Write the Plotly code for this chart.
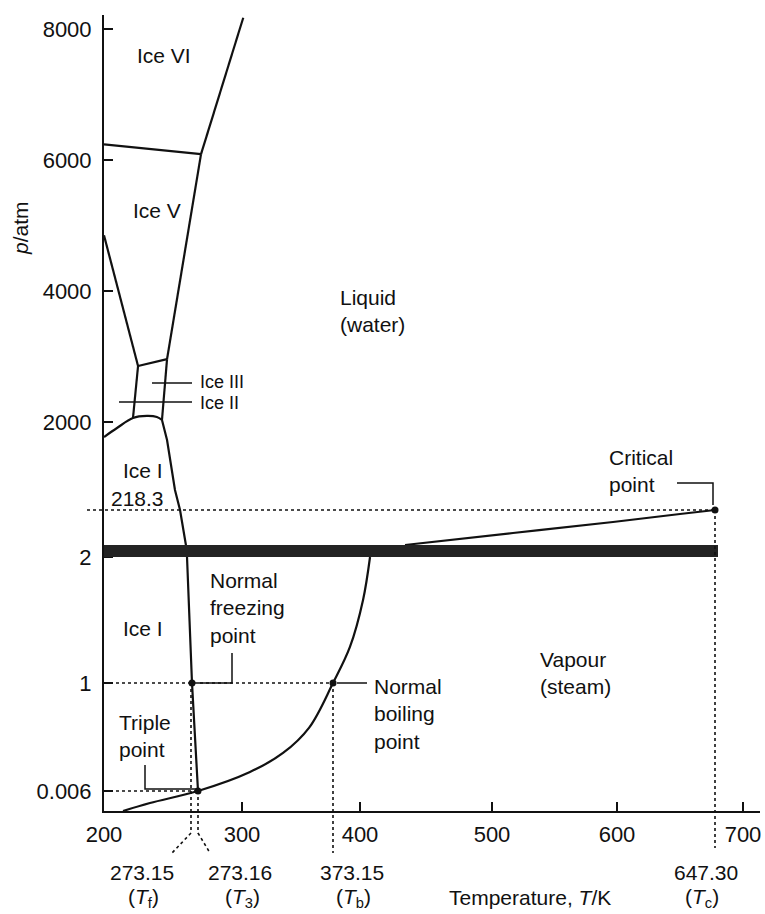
import numpy as np
import plotly.graph_objects as go

# ---------------- data (T in K, p in atm) ----------------
ice6_liq_T = [301.0, 275.0]
ice6_liq_p = [8170, 6090]
ice5_ice6_T = [200.0, 275.0]
ice5_ice6_p = [6240, 6090]
ice5_liq_T = [275.0, 252.4]
ice5_liq_p = [6090, 2960]
ice2_ice5_T = [200.0, 228.3]
ice2_ice5_p = [4850, 2855]
ice3_ice5_T = [228.3, 252.4]
ice3_ice5_p = [2855, 2960]
ice2_ice3_T = [228.3, 224.1]
ice2_ice3_p = [2855, 2061]
ice3_liq_T = [252.4, 248.2]
ice3_liq_p = [2960, 2031]
ice1_upper_T = [200.0, 210.8, 224.1, 235.7, 244.0, 248.2]
ice1_upper_p = [1696, 1878, 2061, 2092, 2076, 2031]
melt_T = [248.2, 252.4, 259.0, 263.2, 268.1, 269.0, 273.15, 273.16]
melt_p = [2031, 1636, 623, 218.3, 57.2, 2, 1, 0.006]
vap_low_T = [215.8, 238.2, 273.16, 306.4, 333.0, 354.0, 373.15, 390.0, 402.3, 407.6]
vap_low_p = [0, 0.0024, 0.006, 0.181, 0.356, 0.590, 1, 1.286, 1.659, 2]
vap_high_T = [434.1, 516.8, 596.8, 630.4, 647.30]
vap_high_p = [57.2, 112.4, 163.1, 199.9, 218.3]

# special points: triple, freezing, boiling, critical
pt_T = [273.16, 273.15, 373.15, 647.30]
pt_p = [0.006, 1, 1, 218.3]

T_ticks = [200, 300, 400, 500, 600, 700]
T_tick_text = ["200", "300", "400", "500", "600", "700"]
p_ticks = [0.006, 1, 2, 2000, 4000, 6000, 8000]
p_tick_text = ["0.006", "1", "2", "2000", "4000", "6000", "8000"]

# ---------------- schematic (broken) axis scales ----------------
T_KNOTS = [200, 273.15, 273.16, 300, 373.15, 400, 500, 600, 647.30, 700]
X_UNITS = [104, 192, 198, 242, 333, 360, 492, 617, 715, 743]
P_KNOTS = [0, 0.006, 1, 2, 218.3, 2000, 8000, 10000]
Y_UNITS = [103, 123, 231, 357, 404, 492, 885, 1017]
X_RANGE = [104, 760]
Y_RANGE = [103, 899]
W, H = 765, 914


def xu(T):
    return np.interp(np.asarray(T, dtype=float), T_KNOTS, X_UNITS)


def yu(p):
    return np.interp(np.asarray(p, dtype=float), P_KNOTS, Y_UNITS)


def xpap(u):
    return (u - X_RANGE[0]) / (X_RANGE[1] - X_RANGE[0])


def ypap(v):
    return (v - Y_RANGE[0]) / (Y_RANGE[1] - Y_RANGE[0])


FONT = "Liberation Sans, Arial, Helvetica, sans-serif"
BLACK = "#111111"

fig = go.Figure()

curves = [
    (ice6_liq_T, ice6_liq_p, "linear"), (ice5_ice6_T, ice5_ice6_p, "linear"),
    (ice5_liq_T, ice5_liq_p, "linear"), (ice2_ice5_T, ice2_ice5_p, "linear"),
    (ice3_ice5_T, ice3_ice5_p, "linear"), (ice2_ice3_T, ice2_ice3_p, "linear"),
    (ice3_liq_T, ice3_liq_p, "linear"), (ice1_upper_T, ice1_upper_p, "spline"),
    (melt_T, melt_p, "linear"), (vap_low_T, vap_low_p, "spline"),
    (vap_high_T, vap_high_p, "spline"),
]
for Tc, pc, shp in curves:
    fig.add_trace(go.Scatter(x=xu(Tc), y=yu(pc), mode="lines",
                             line=dict(color=BLACK, width=2.2, shape=shp, smoothing=1.0),
                             hoverinfo="skip", showlegend=False, cliponaxis=False))

shapes = []
dot = dict(color=BLACK, width=1.6, dash="dot")
solid = dict(color=BLACK, width=1.5)

# break band in the pressure axis
shapes.append(dict(type="rect", xref="x", yref="y", x0=X_RANGE[0], x1=xu(647.30) + 3,
                   y0=yu(2), y1=yu(2) + 12, fillcolor="#232323", line=dict(width=0),
                   layer="above"))

xt, xf, xb, xc = [float(v) for v in xu(pt_T)]
yt, yf, yb, yc = [float(v) for v in yu(pt_p)]

# dotted guide lines
shapes.append(dict(type="line", xref="paper", yref="y", x0=xpap(87), x1=xpap(xc),
                   y0=yc, y1=yc, line=dot))
shapes.append(dict(type="line", xref="x", yref="y", x0=X_RANGE[0], x1=xb, y0=yf, y1=yf, line=dot))
shapes.append(dict(type="line", xref="x", yref="y", x0=X_RANGE[0], x1=xt, y0=yt, y1=yt, line=dot))


def guide(x_top, v_top, x_end, v_bend, v_end):
    path = "M {:.2f},{:.5f} L {:.2f},{:.5f} L {:.2f},{:.5f}".format(
        x_top, ypap(v_top), x_top, ypap(v_bend), x_end, ypap(v_end))
    return dict(type="path", xref="x", yref="paper", path=path, line=dot)


shapes.append(guide(xf - 1, yf, xf - 20, 81, 61))
shapes.append(guide(xt, yt, xt + 12, 81, 61))
shapes.append(guide(xb, yb, xb, 61, 61))
shapes.append(guide(xc, yc, xc, 66, 66))

# leader lines to labels
shapes.append(dict(type="path", xref="x", yref="y",
                   path="M {},{} L {},{} L {},{}".format(xf + 5, yf, xf + 40, yf, xf + 40, yf + 30),
                   line=solid))
shapes.append(dict(type="path", xref="x", yref="y",
                   path="M {},{} L {},{} L {},{}".format(xt - 1, yt + 2, xt - 53, yt + 2, xt - 53, yt + 26),
                   line=solid))
shapes.append(dict(type="line", xref="x", yref="y", x0=xb + 4, x1=xb + 34, y0=yf, y1=yf, line=solid))
shapes.append(dict(type="path", xref="x", yref="y",
                   path="M {},{} L {},{} L {},{}".format(xc - 2, yc + 5, xc - 2, yc + 27, xc - 38, yc + 27),
                   line=solid))
shapes.append(dict(type="line", xref="x", yref="y", x0=152, x1=192, y0=531, y1=531, line=solid))
shapes.append(dict(type="line", xref="x", yref="y", x0=119, x1=192, y0=512, y1=512, line=solid))

fig.add_trace(go.Scatter(x=xu(pt_T), y=yu(pt_p), mode="markers",
                         marker=dict(color=BLACK, size=7), hoverinfo="skip",
                         showlegend=False, cliponaxis=False))

ann = []
FS = 21


def txt(text, x, y, xanchor="center", xref="x", yref="y", size=FS, angle=0):
    ann.append(dict(text=text, x=x, y=y, xref=xref, yref=yref, xanchor=xanchor,
                    yanchor="middle", showarrow=False, textangle=angle,
                    font=dict(family=FONT, size=size, color=BLACK), align="left"))


txt("Ice VI", 164, 859)
txt("Ice V", 157, 704)
txt("Liquid<br>(water)", 372, 603)
txt("Ice III", 198, 532, "left", size=18)
txt("Ice II", 198, 511, "left", size=18)
txt("Ice I", 143, 444)
txt("218.3", 137, 416)
txt("Ice I", 143, 286)
txt("Normal<br>freezing<br>point", 208, 306, "left")
txt("Triple<br>point", 117, 178, "left")
txt("Normal<br>boiling<br>point", 372, 200, "left")
txt("Vapour<br>(steam)", 538, 241, "left")
txt("Critical<br>point", 607, 443, "left")

# labels under the temperature axis
for label, sub, xc_lab, xs_lab in [("273.15", "f", 142, 143), ("273.16", "3", 240, 242),
                                   ("373.15", "b", 352, 353), ("647.30", "c", 706, 702)]:
    txt(label, xc_lab, ypap(914 - 872), yref="paper")
    txt("(<i>T</i><sub>{}</sub>)".format(sub), xs_lab, ypap(914 - 898), yref="paper")
txt("Temperature, <i>T</i>/K", 530, ypap(914 - 897), yref="paper")
txt("<i>p</i>/atm", xpap(20), ypap(914 - 228), xref="paper", yref="paper", angle=-90)

TICKFONT = dict(family=FONT, size=22, color=BLACK)
fig.update_layout(
    width=W, height=H,
    margin=dict(l=X_RANGE[0], r=W - X_RANGE[1], t=H - Y_RANGE[1], b=Y_RANGE[0]),
    paper_bgcolor="white", plot_bgcolor="white",
    shapes=shapes, annotations=ann, showlegend=False,
    font=dict(family=FONT, size=FS, color=BLACK),
    xaxis=dict(range=X_RANGE, tickmode="array", tickvals=xu(T_ticks), ticktext=T_tick_text,
               ticks="inside", ticklen=9, tickwidth=1.5, tickcolor=BLACK,
               showline=True, linecolor=BLACK, linewidth=2, showgrid=False, zeroline=False,
               ticklabelstandoff=3, tickfont=TICKFONT),
    yaxis=dict(range=Y_RANGE, tickmode="array", tickvals=yu(p_ticks), ticktext=p_tick_text,
               ticks="inside", ticklen=9, tickwidth=1.5, tickcolor=BLACK,
               showline=True, linecolor=BLACK, linewidth=2, showgrid=False, zeroline=False,
               ticklabelstandoff=6, tickfont=TICKFONT),
)

fig.write_html("out.html", config={"displayModeBar": False},
               post_script="document.body.style.margin='0';")
